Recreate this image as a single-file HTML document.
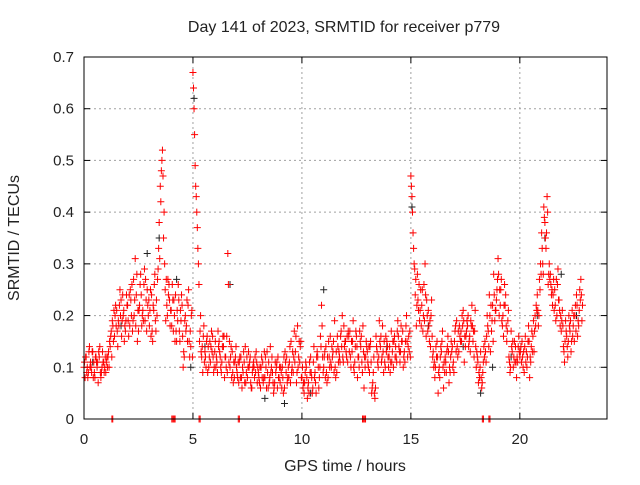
<!DOCTYPE html>
<html><head><meta charset="utf-8"><style>
body{margin:0;background:#fff}
text{font-family:"Liberation Sans",sans-serif;font-size:15px;fill:#222}
</style></head><body>
<svg id="chart" width="640" height="480" xmlns="http://www.w3.org/2000/svg">
<text x="344" y="32" text-anchor="middle" style="font-size:16px">Day 141 of 2023, SRMTID for receiver p779</text>
<text x="345" y="471" text-anchor="middle" style="font-size:16px">GPS time / hours</text>
<text transform="translate(19,238) rotate(-90)" text-anchor="middle" style="font-size:16px">SRMTID / TECUs</text>
<g id="grid"></g>
<g id="ticks"></g>
<g id="marks"></g>
<rect x="84" y="57" width="523" height="362" fill="none" stroke="#000" stroke-width="1"/>
</svg>
<script>
const xTicks=[0,5,10,15,20];
const yTicks=[0,0.1,0.2,0.3,0.4,0.5,0.6,0.7];
const yTickLabels=["0","0.1","0.2","0.3","0.4","0.5","0.6","0.7"];
const times=[
0.0,0.1,0.2,0.3,0.4,0.5,0.6,0.7,0.8,0.9,
1.0,1.1,1.2,1.3,1.4,1.5,1.6,1.7,1.8,1.9,
2.0,2.1,2.2,2.3,2.4,2.5,2.6,2.7,2.8,2.9,
3.0,3.1,3.2,3.3,3.4,3.5,3.6,3.7,3.8,3.9,
4.0,4.1,4.2,4.3,4.4,4.5,4.6,4.7,4.8,4.9,
5.0,5.1,5.2,5.3,5.4,5.5,5.6,5.7,5.8,5.9,
6.0,6.1,6.2,6.3,6.4,6.5,6.6,6.7,6.8,6.9,
7.0,7.1,7.2,7.3,7.4,7.5,7.6,7.7,7.8,7.9,
8.0,8.1,8.2,8.3,8.4,8.5,8.6,8.7,8.8,8.9,
9.0,9.1,9.2,9.3,9.4,9.5,9.6,9.7,9.8,9.9,
10.0,10.1,10.2,10.3,10.4,10.5,10.6,10.7,10.8,10.9,
11.0,11.1,11.2,11.3,11.4,11.5,11.6,11.7,11.8,11.9,
12.0,12.1,12.2,12.3,12.4,12.5,12.6,12.7,12.8,12.9,
13.0,13.1,13.2,13.3,13.4,13.5,13.6,13.7,13.8,13.9,
14.0,14.1,14.2,14.3,14.4,14.5,14.6,14.7,14.8,14.9,
15.0,15.1,15.2,15.3,15.4,15.5,15.6,15.7,15.8,15.9,
16.0,16.1,16.2,16.3,16.4,16.5,16.6,16.7,16.8,16.9,
17.0,17.1,17.2,17.3,17.4,17.5,17.6,17.7,17.8,17.9,
18.0,18.1,18.2,18.3,18.4,18.5,18.6,18.7,18.8,18.9,
19.0,19.1,19.2,19.3,19.4,19.5,19.6,19.7,19.8,19.9,
20.0,20.1,20.2,20.3,20.4,20.5,20.6,20.7,20.8,20.9,
21.0,21.1,21.2,21.3,21.4,21.5,21.6,21.7,21.8,21.9,
22.0,22.1,22.2,22.3,22.4,22.5,22.6,22.7,22.8];
const valsA=[
.10,.12,.09,.11,.13,.08,.10,.12,.09,.11,
.09,.12,.14,.19,.16,.21,.18,.23,.20,.17,
.22,.18,.26,.20,.24,.17,.28,.21,.19,.25,
.18,.24,.21,.17,.29,.45,.52,.30,.22,.26,
.21,.17,.24,.19,.15,.22,.12,.18,.25,.14,
.67,.49,.37,.15,.12,.18,.10,.14,.11,.16,
.13,.11,.15,.09,.14,.12,.32,.10,.13,.08,
.10,.07,.12,.09,.14,.08,.11,.06,.10,.13,
.09,.06,.11,.08,.13,.07,.10,.05,.09,.12,
.07,.10,.06,.12,.08,.15,.09,.13,.18,.11,
.08,.05,.10,.07,.12,.06,.09,.13,.08,.22,
.10,.14,.08,.16,.12,.19,.09,.13,.17,.11,
.15,.11,.17,.13,.09,.16,.12,.14,.18,.10,
.13,.09,.05,.12,.16,.10,.14,.18,.11,.15,
.12,.17,.10,.14,.19,.11,.15,.13,.20,.16,
.47,.36,.24,.28,.19,.22,.26,.16,.21,.14,
.12,.08,.15,.10,.13,.06,.11,.16,.09,.14,
.15,.19,.13,.17,.21,.14,.18,.16,.22,.12,
.10,.07,.13,.09,.15,.20,.24,.17,.28,.21,
.31,.22,.18,.26,.15,.12,.17,.10,.14,.11,
.12,.15,.09,.13,.18,.11,.16,.20,.24,.27,
.36,.41,.33,.26,.28,.22,.25,.20,.23,.17,
.14,.19,.12,.17,.21,.15,.24,.18,.27];
const valsB=[
.08,.10,.14,.09,.11,.12,.07,.09,.13,.10,
.12,.10,.17,.15,.22,.14,.25,.19,.15,.24,
.16,.23,.19,.31,.15,.22,.18,.26,.23,.20,
.25,.15,.28,.20,.38,.48,.35,.19,.27,.18,
.26,.20,.15,.23,.19,.10,.20,.15,.12,.21,
.60,.43,.30,.20,.09,.13,.16,.12,.17,.09,
.10,.17,.12,.14,.08,.16,.11,.14,.07,.12,
.08,.12,.06,.11,.09,.13,.07,.10,.12,.07,
.07,.12,.08,.10,.06,.14,.09,.07,.11,.08,
.09,.05,.11,.08,.14,.10,.17,.07,.12,.15,
.06,.09,.04,.11,.08,.14,.05,.10,.16,.12,
.13,.07,.12,.10,.15,.08,.14,.11,.20,.14,
.12,.16,.10,.19,.14,.08,.17,.11,.06,.15,
.10,.15,.07,.04,.13,.19,.11,.09,.16,.12,
.09,.13,.16,.11,.14,.18,.10,.15,.12,.17,
.43,.30,.18,.21,.25,.17,.30,.20,.15,.23,
.10,.14,.05,.12,.17,.09,.13,.07,.15,.11,
.18,.12,.16,.20,.11,.17,.14,.19,.15,.21,
.12,.08,.06,.14,.11,.17,.13,.22,.19,.25,
.20,.27,.16,.24,.19,.09,.13,.15,.08,.16,
.14,.10,.16,.12,.08,.17,.13,.22,.18,.30,
.30,.38,.43,.30,.24,.27,.19,.29,.18,.21,
.11,.16,.20,.13,.18,.22,.16,.25,.19];
const valsC=[
.11,.09,.13,.10,.08,.12,.11,.14,.10,.09,
.11,.13,.16,.18,.20,.17,.22,.16,.21,.19,
.19,.25,.17,.23,.28,.21,.24,.19,.27,.22,
.21,.17,.26,.23,.33,.42,.47,.25,.20,.23,
.18,.23,.17,.26,.21,.16,.19,.23,.15,.20,
.64,.45,.33,.17,.14,.11,.15,.10,.14,.12,
.15,.09,.13,.11,.16,.10,.26,.12,.09,.11,
.09,.11,.08,.13,.07,.10,.12,.09,.08,.11,
.08,.10,.07,.12,.09,.08,.12,.06,.10,.08,
.10,.08,.13,.07,.11,.09,.12,.16,.10,.14,
.10,.07,.08,.05,.09,.11,.07,.12,.10,.18,
.12,.09,.15,.11,.13,.10,.16,.12,.14,.18,
.13,.17,.12,.15,.11,.14,.10,.16,.13,.12,
.11,.14,.06,.05,.14,.12,.16,.13,.10,.14,
.14,.11,.15,.12,.16,.13,.17,.11,.15,.13,
.45,.33,.27,.23,.21,.25,.19,.23,.18,.20,
.13,.10,.12,.08,.15,.11,.09,.13,.12,.10,
.17,.14,.18,.15,.19,.16,.20,.13,.18,.17,
.13,.09,.08,.11,.13,.18,.20,.19,.24,.23,
.28,.25,.20,.22,.17,.11,.14,.12,.11,.14,
.13,.12,.14,.10,.15,.14,.19,.18,.21,.25,
.33,.39,.36,.28,.26,.24,.22,.26,.21,.19,
.13,.17,.15,.19,.16,.20,.22,.21,.24];
const valsD=[
.12,.08,.10,.13,.09,.11,.13,.08,.11,.12,
.10,.15,.12,.21,.18,.19,.20,.24,.18,.22,
.24,.20,.27,.18,.21,.26,.20,.29,.17,.23,
.16,.22,.19,.27,.31,.50,.40,.27,.24,.21,
.23,.15,.21,.17,.24,.13,.17,.22,.17,.12,
.55,.40,.26,.13,.16,.12,.09,.15,.13,.10,
.12,.14,.10,.16,.12,.09,.15,.08,.11,.14,
.11,.08,.10,.07,.12,.10,.06,.11,.09,.10,
.10,.08,.13,.06,.11,.09,.07,.11,.06,.10,
.06,.12,.09,.10,.07,.13,.11,.09,.15,.08,
.07,.11,.06,.09,.05,.08,.12,.06,.14,.09,
.08,.12,.10,.14,.09,.13,.11,.16,.12,.15,
.16,.13,.15,.10,.17,.12,.15,.09,.12,.14,
.14,.11,.09,.06,.11,.15,.12,.15,.13,.10,
.11,.15,.12,.17,.13,.15,.12,.18,.14,.12,
.40,.29,.22,.26,.18,.20,.24,.17,.19,.16,
.11,.12,.09,.14,.10,.12,.14,.10,.13,.09,
.13,.17,.15,.18,.16,.19,.15,.18,.17,.14,
.11,.10,.07,.12,.16,.14,.22,.15,.21,.27,
.25,.19,.22,.18,.21,.10,.15,.11,.12,.13,
.11,.13,.11,.15,.12,.13,.17,.21,.20,.28,
.28,.35,.40,.27,.25,.21,.27,.23,.20,.18,
.15,.14,.18,.15,.20,.17,.19,.23,.22];
const blackTimes=[0.4,1.7,2.9,3.45,4.25,4.9,5.05,5.55,6.7,8.3,9.2,10.4,11.0,12.6,13.9,15.05,15.8,17.4,18.2,18.75,19.6,20.8,21.15,21.9,22.6];
const blackVals=[.11,.18,.32,.35,.27,.10,.62,.14,.26,.04,.03,.05,.25,.12,.14,.41,.18,.14,.05,.10,.12,.20,.35,.28,.20];
const zeroTimes=[1.28,1.32,4.03,4.08,4.13,4.18,5.28,5.33,7.08,7.13,12.78,12.82,12.88,12.92,18.28,18.33,18.58,18.63];
const zeroVals=[0,0,0,0,0,0,0,0,0,0,0,0,0,0,0,0,0,0];

const X0=84,X1=607,Y0=419,Y1=57,XMAX=24,YMAX=0.7;
const sx=v=>X0+(X1-X0)*v/XMAX;
const sy=v=>Y0-(Y0-Y1)*v/YMAX;
const NS="http://www.w3.org/2000/svg";
function mk(tag,attrs,parent){const e=document.createElementNS(NS,tag);for(const k in attrs)e.setAttribute(k,attrs[k]);parent.appendChild(e);return e;}
const grid=document.getElementById('grid'),ticks=document.getElementById('ticks'),marks=document.getElementById('marks');
yTicks.forEach((v,i)=>{
  const y=sy(v);
  if(v>0&&v<YMAX){const g=mk('line',{x1:X0,x2:X1,y1:y,y2:y,stroke:'#a0a0a0','stroke-dasharray':'2,3'},grid);
  
  }
  mk('line',{x1:X0,x2:X0+6,y1:y,y2:y,stroke:'#000'},ticks);
  mk('line',{x1:X1,x2:X1-6,y1:y,y2:y,stroke:'#000'},ticks);
  const t=mk('text',{x:X0-10,y:y+5,'text-anchor':'end'},ticks);t.textContent=yTickLabels[i];
  
  
});
xTicks.forEach(v=>{
  const x=sx(v);
  if(v>0){const g=mk('line',{x1:x,x2:x,y1:Y0,y2:Y1,stroke:'#a0a0a0','stroke-dasharray':'2,3'},grid);
  
  }
  mk('line',{x1:x,x2:x,y1:Y0,y2:Y0-6,stroke:'#000'},ticks);
  mk('line',{x1:x,x2:x,y1:Y1,y2:Y1+6,stroke:'#000'},ticks);
  const t=mk('text',{x:x,y:Y0+25,'text-anchor':'middle'},ticks);t.textContent=String(v);
  
  
});
function cross(t,v,color,name){
  const x=sx(t),y=sy(v);
  const p=mk('path',{d:`M${x-3.5},${y}H${x+3.5}M${x},${y-3.5}V${y+3.5}`,stroke:color,'stroke-width':1,fill:'none'},marks);
  
  
}
blackTimes.forEach((t,i)=>cross(t,blackVals[i],'#222','black-point'));
times.forEach((t,i)=>cross(t,valsA[i],'#ff0000','red-point'));
times.forEach((t,i)=>cross(t+0.025,valsC[i],'#ff0000','red-point'));
times.forEach((t,i)=>cross(t+0.05,valsB[i],'#ff0000','red-point'));
times.forEach((t,i)=>cross(t+0.075,valsD[i],'#ff0000','red-point'));
zeroTimes.forEach((t,i)=>cross(t,zeroVals[i],'#ff0000','zero-point'));
</script>
</body></html>
